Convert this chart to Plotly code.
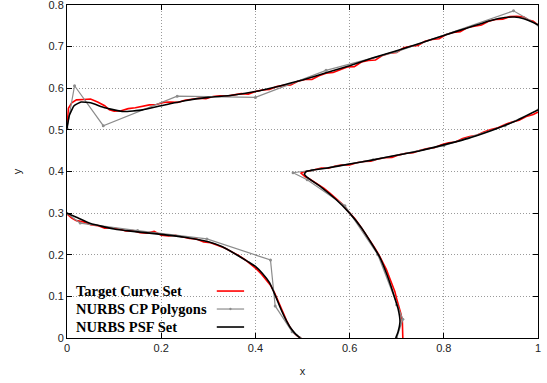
import plotly.graph_objects as go

# ---- data ----
x_tickvals = [0, 0.2, 0.4, 0.6, 0.8, 1.0]
x_ticktext = ["0", "0.2", "0.4", "0.6", "0.8", "1"]
y_tickvals = [0, 0.1, 0.2, 0.3, 0.4, 0.5, 0.6, 0.7, 0.8]
y_ticktext = ["0", "0.1", "0.2", "0.3", "0.4", "0.5", "0.6", "0.7", "0.8"]

legend_labels = ["Target Curve Set", "NURBS CP Polygons", "NURBS PSF Set"]

# Target curves (red)
t1_x = [0, 0.003, 0.01, 0.02, 0.035, 0.05, 0.065, 0.08, 0.09, 0.1, 0.115, 0.13, 0.145, 0.16, 0.175, 0.19, 0.205,
        0.22, 0.235, 0.25, 0.265, 0.28, 0.295, 0.31, 0.325, 0.34, 0.355, 0.37, 0.385, 0.40, 0.415, 0.43, 0.445,
        0.46, 0.475, 0.49, 0.505, 0.52, 0.535, 0.55, 0.565, 0.58, 0.595, 0.61, 0.625, 0.64, 0.655, 0.67, 0.685,
        0.70, 0.715, 0.73, 0.745, 0.76, 0.775, 0.79, 0.805, 0.82, 0.835, 0.85, 0.865, 0.88, 0.895, 0.91, 0.925,
        0.94, 0.955, 0.97, 0.98, 0.99, 1.0]
t1_y = [0.505, 0.552, 0.565, 0.572, 0.573, 0.574, 0.567, 0.558, 0.548, 0.545, 0.546, 0.551, 0.553, 0.556, 0.560,
        0.561, 0.566, 0.567, 0.566, 0.571, 0.574, 0.576, 0.575, 0.580, 0.582, 0.581, 0.584, 0.587, 0.586, 0.592,
        0.596, 0.597, 0.604, 0.607, 0.608, 0.617, 0.621, 0.621, 0.630, 0.636, 0.638, 0.645, 0.651, 0.652, 0.663,
        0.667, 0.668, 0.679, 0.684, 0.686, 0.697, 0.701, 0.703, 0.713, 0.717, 0.719, 0.729, 0.734, 0.736, 0.746,
        0.749, 0.752, 0.761, 0.765, 0.766, 0.772, 0.773, 0.771, 0.764, 0.761, 0.752]

t2_x = [1.0, 0.99, 0.975, 0.96, 0.945, 0.93, 0.915, 0.90, 0.885, 0.87, 0.855, 0.84, 0.825, 0.81, 0.795, 0.78,
        0.765, 0.75, 0.735, 0.72, 0.705, 0.69, 0.675, 0.66, 0.645, 0.63, 0.615, 0.60, 0.585, 0.57, 0.555, 0.54,
        0.525, 0.51, 0.50, 0.497, 0.505, 0.515, 0.53, 0.545, 0.558, 0.57, 0.585, 0.598, 0.61, 0.622, 0.632, 0.643,
        0.652, 0.662, 0.67, 0.678, 0.684, 0.690, 0.696, 0.700, 0.705, 0.709, 0.712, 0.712, 0.713]
t2_y = [0.543, 0.537, 0.532, 0.523, 0.519, 0.513, 0.505, 0.501, 0.495, 0.487, 0.484, 0.479, 0.471, 0.469, 0.464,
        0.457, 0.455, 0.451, 0.445, 0.444, 0.440, 0.434, 0.433, 0.430, 0.425, 0.424, 0.421, 0.416, 0.416, 0.413,
        0.408, 0.408, 0.404, 0.401, 0.398, 0.396, 0.388, 0.382, 0.372, 0.360, 0.348, 0.337, 0.321, 0.303, 0.288,
        0.270, 0.253, 0.236, 0.219, 0.200, 0.183, 0.165, 0.147, 0.130, 0.112, 0.094, 0.076, 0.058, 0.040, 0.020, 0.0]

t3_x = [0, 0.01, 0.02, 0.035, 0.05, 0.065, 0.08, 0.095, 0.11, 0.125, 0.14, 0.155, 0.17, 0.185, 0.2, 0.215, 0.23,
        0.245, 0.26, 0.275, 0.29, 0.305, 0.32, 0.335, 0.35, 0.365, 0.378, 0.39, 0.402, 0.413, 0.423, 0.432, 0.44,
        0.447, 0.453, 0.46, 0.466, 0.474, 0.482, 0.49, 0.497]
t3_y = [0.298, 0.288, 0.282, 0.279, 0.272, 0.270, 0.264, 0.265, 0.262, 0.257, 0.258, 0.253, 0.252, 0.256, 0.247,
        0.245, 0.247, 0.243, 0.239, 0.238, 0.231, 0.229, 0.223, 0.216, 0.207, 0.198, 0.188, 0.178, 0.166, 0.153,
        0.140, 0.127, 0.110, 0.093, 0.075, 0.058, 0.042, 0.025, 0.012, 0.004, 0.0]

# Control point polygons (gray)
p1_x = [0, 0.016, 0.077, 0.234, 0.40, 0.55, 0.70, 0.948, 1.0]
p1_y = [0.504, 0.606, 0.51, 0.581, 0.578, 0.643, 0.688, 0.786, 0.752]
p2_x = [1.0, 0.93, 0.80, 0.65, 0.52, 0.48, 0.51, 0.59, 0.66, 0.70, 0.713, 0.70]
p2_y = [0.548, 0.51, 0.462, 0.428, 0.403, 0.397, 0.38, 0.318, 0.2, 0.08, 0.045, 0.0]
p3_x = [0, 0.028, 0.15, 0.297, 0.432, 0.442, 0.478, 0.495]
p3_y = [0.30, 0.276, 0.258, 0.238, 0.1875, 0.077, 0.015, 0.0]

# NURBS fitted curves (black)
n1_x = [0, 0.005, 0.015, 0.03, 0.05, 0.08, 0.12, 0.16, 0.2, 0.25, 0.3, 0.35, 0.4, 0.45, 0.5, 0.55, 0.6, 0.65,
        0.7, 0.75, 0.8, 0.85, 0.9, 0.93, 0.95, 0.97, 0.99, 1.0]
n1_y = [0.503, 0.535, 0.558, 0.567, 0.565, 0.553, 0.544, 0.548, 0.558, 0.570, 0.578, 0.583, 0.592, 0.605, 0.620,
        0.637, 0.654, 0.673, 0.690, 0.708, 0.727, 0.745, 0.763, 0.770, 0.771, 0.767, 0.758, 0.752]
n2_x = [1.0, 0.95, 0.9, 0.85, 0.8, 0.75, 0.7, 0.65, 0.6, 0.55, 0.52, 0.508, 0.504, 0.51, 0.54, 0.57, 0.6, 0.625,
        0.645, 0.665, 0.68, 0.692, 0.703, 0.707, 0.703, 0.698]
n2_y = [0.548, 0.520, 0.498, 0.479, 0.464, 0.450, 0.439, 0.428, 0.418, 0.408, 0.403, 0.400, 0.394, 0.386, 0.362,
        0.334, 0.300, 0.265, 0.230, 0.192, 0.150, 0.110, 0.070, 0.040, 0.015, 0.0]
n3_x = [0, 0.02, 0.05, 0.1, 0.15, 0.2, 0.25, 0.3, 0.33, 0.36, 0.385, 0.4, 0.415, 0.43, 0.443, 0.452, 0.462,
        0.473, 0.485, 0.495]
n3_y = [0.30, 0.29, 0.275, 0.262, 0.255, 0.249, 0.242, 0.231, 0.219, 0.200, 0.183, 0.172, 0.155, 0.133, 0.100,
        0.075, 0.050, 0.027, 0.010, 0.0]

RED = "#ff0000"
GRAY = "#8c8c8c"
BLACK = "#000000"
FONT = "Liberation Sans, Arial, sans-serif"

fig = go.Figure()
for tx, ty in [(t1_x, t1_y), (t2_x, t2_y), (t3_x, t3_y)]:
    fig.add_trace(go.Scatter(x=tx, y=ty, mode="lines", line=dict(color=RED, width=1.6),
                             showlegend=False, hoverinfo="skip", cliponaxis=False))
for px, py in [(p1_x, p1_y), (p2_x, p2_y), (p3_x, p3_y)]:
    fig.add_trace(go.Scatter(x=px, y=py, mode="lines+markers", line=dict(color=GRAY, width=1.2),
                             marker=dict(color=GRAY, size=3), showlegend=False, hoverinfo="skip"))
for nx, ny in [(n1_x, n1_y), (n2_x, n2_y), (n3_x, n3_y)]:
    fig.add_trace(go.Scatter(x=nx, y=ny, mode="lines",
                             line=dict(color=BLACK, width=1.6, shape="spline", smoothing=0.4),
                             showlegend=False, hoverinfo="skip"))

axis_common = dict(
    showgrid=True, gridcolor="#9a9a9a", griddash="1px,2px", gridwidth=1,
    zeroline=False, showline=True, linecolor="black", linewidth=1, mirror="ticks",
    ticks="inside", ticklen=5, tickcolor="black", automargin=False,
    ticklabeloverflow="allow",
    tickfont=dict(family=FONT, size=11, color="#222222"),
)
fig.update_xaxes(range=[0, 1], tickvals=x_tickvals, ticktext=x_ticktext,
                 title=dict(text="x", font=dict(family=FONT, size=11, color="#222222"), standoff=14),
                 **axis_common)
fig.update_yaxes(range=[0, 0.8], tickvals=y_tickvals, ticktext=y_ticktext,
                 title=dict(text="y", font=dict(family=FONT, size=11, color="#222222"), standoff=24),
                 **axis_common)

# gnuplot-style legend: text on the left, sample on the right
legend_rows_y = [0.141, 0.087, 0.033]
legend_colors = [RED, GRAY, BLACK]
for label, yy, col in zip(legend_labels, legend_rows_y, legend_colors):
    fig.add_annotation(xref="paper", yref="paper", x=0.014, y=yy, text="<b>" + label + "</b>",
                       showarrow=False, xanchor="left", yanchor="middle",
                       font=dict(family="Liberation Serif, Times New Roman, serif", size=14.5, color="black"))
    fig.add_shape(type="line", xref="paper", yref="paper", x0=0.318, x1=0.376, y0=yy, y1=yy,
                  line=dict(color=col, width=1.6 if col != GRAY else 1.2))
fig.add_shape(type="circle", xref="paper", yref="paper", x0=0.3445, x1=0.3495, y0=0.087 - 0.0035,
              y1=0.087 + 0.0035, fillcolor=GRAY, line=dict(color=GRAY, width=0))

fig.update_layout(
    width=547, height=383,
    margin=dict(l=67, r=9, t=5, b=45, autoexpand=False),
    plot_bgcolor="white", paper_bgcolor="white",
    showlegend=False,
)

fig.write_html("out.html", config={"displayModeBar": False},
               post_script="document.body.style.margin='0px';document.body.style.overflow='hidden';")
